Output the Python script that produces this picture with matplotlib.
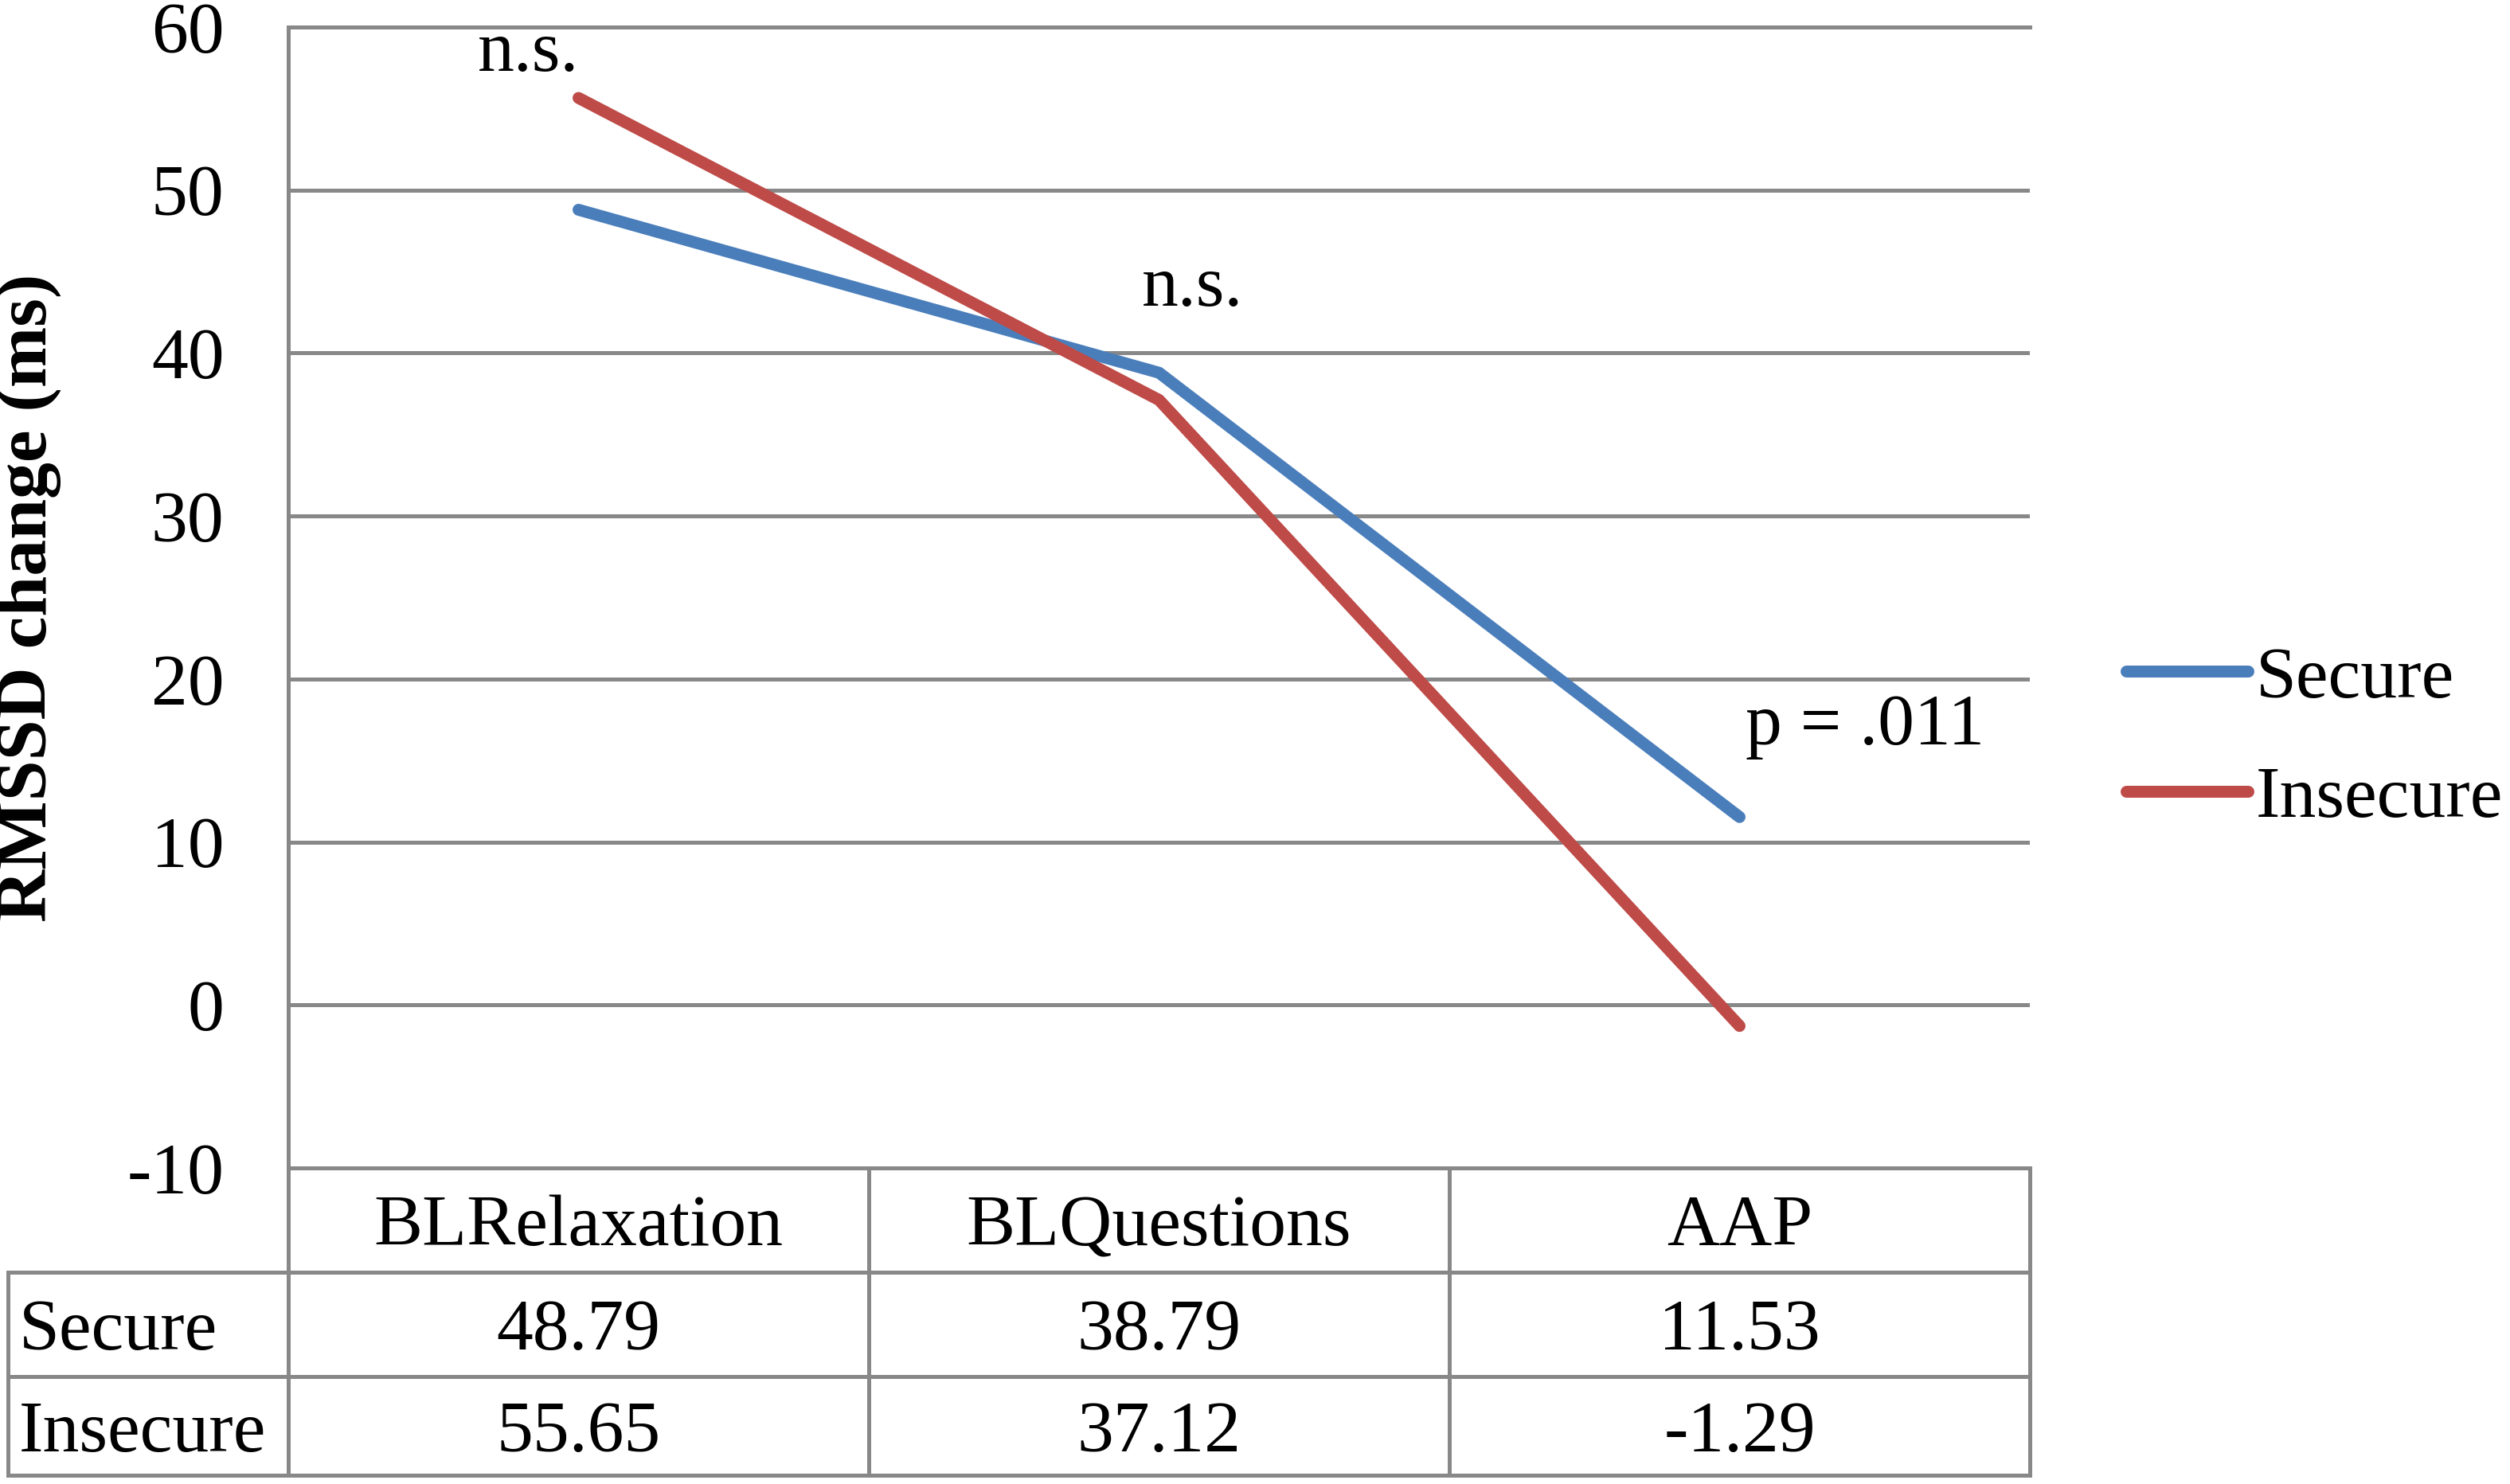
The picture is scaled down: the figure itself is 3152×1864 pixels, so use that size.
import matplotlib
matplotlib.use("Agg")
import matplotlib.pyplot as plt
from matplotlib.table import Table

categories = ["BLRelaxation", "BLQuestions", "AAP"]
secure = [48.79, 38.79, 11.53]
insecure = [55.65, 37.12, -1.29]
series_names = ["Secure", "Insecure"]
yticks = [-10, 0, 10, 20, 30, 40, 50, 60]
annotations = [("n.s.", -0.087, 57.3, "center"),
               ("n.s.", 1.057, 42.9, "center"),
               ("p = .011", 2.01, 16.0, "left")]

plt.rcParams['font.family'] = ['Liberation Serif', 'DejaVu Serif']
FS = 33
GRAY = "#888888"
BLUE = "#4A7EBB"
RED = "#BE4B48"

W, H = 3152, 1864
fig = plt.figure(figsize=(W / 200, H / 200), dpi=200)
L, R, T, B = 362, 2549, 34, 1467
ax = fig.add_axes([L / W, 1 - B / H, (R - L) / W, (B - T) / H])

x = list(range(len(categories)))
ax.plot(x, secure, color=BLUE, lw=5.4, solid_capstyle='round', solid_joinstyle='round', label=series_names[0], zorder=3)
ax.plot(x, insecure, color=RED, lw=5.4, solid_capstyle='round', solid_joinstyle='round', label=series_names[1], zorder=3)

ax.set_xlim(-0.5, len(categories) - 0.5)
ax.set_ylim(-10, 60)
ax.set_yticks(yticks)
ax.set_yticklabels([str(v) for v in yticks])
ax.set_xticks([])
ax.tick_params(axis='y', length=0, pad=29, labelsize=FS)
ax.yaxis.grid(True, color=GRAY, lw=1.8)
ax.set_axisbelow(True)
for s in ['top', 'bottom', 'left']:
    ax.spines[s].set_color(GRAY)
    ax.spines[s].set_linewidth(1.8)
ax.spines['right'].set_visible(False)

ax.set_ylabel("RMSSD change (ms)", fontsize=FS, fontweight='bold', va='center')
ax.yaxis.set_label_coords((36 - L) / (R - L), 0.5)

for txt, tx, ty, ha in annotations:
    ax.text(tx, ty, txt, fontsize=FS, ha=ha, va='baseline')

# table
axw = R - L
rowlab_w = (L - 10) / axw
tbl_h = (1853 - B) / (B - T)
rows = [["%.2f" % v for v in secure], ["%.2f" % v for v in insecure]]
tbl = Table(ax, bbox=[0, -tbl_h, 1, tbl_h])
row_h = [131 / (B - T), 131 / (B - T), 124 / (B - T)]
colw = 1 / len(categories)
for j, cat in enumerate(categories):
    tbl.add_cell(0, j, width=colw, height=row_h[0], text=cat, loc='center')
for i, (name, vals) in enumerate(zip(series_names, rows), start=1):
    c = tbl.add_cell(i, -1, width=rowlab_w, height=row_h[i], text=name, loc='left')
    c.PAD = 0.04
    for j, v in enumerate(vals):
        tbl.add_cell(i, j, width=colw, height=row_h[i], text=v, loc='center')
tbl.auto_set_font_size(False)
for (r, c), cell in tbl.get_celld().items():
    cell.set_edgecolor(GRAY)
    cell.set_linewidth(1.8)
    cell.get_text().set_fontsize(FS)
    cell.get_text().set_va('center_baseline')
ax.add_table(tbl)

leg = ax.legend(loc='center left', bbox_to_anchor=(2670 / W, 1 - 928 / H),
                bbox_transform=fig.transFigure, frameon=False, fontsize=FS,
                handlelength=1.67, handletextpad=0.11, labelspacing=0.73,
                borderpad=0, borderaxespad=0)

fig.savefig("out.png", dpi=200)
